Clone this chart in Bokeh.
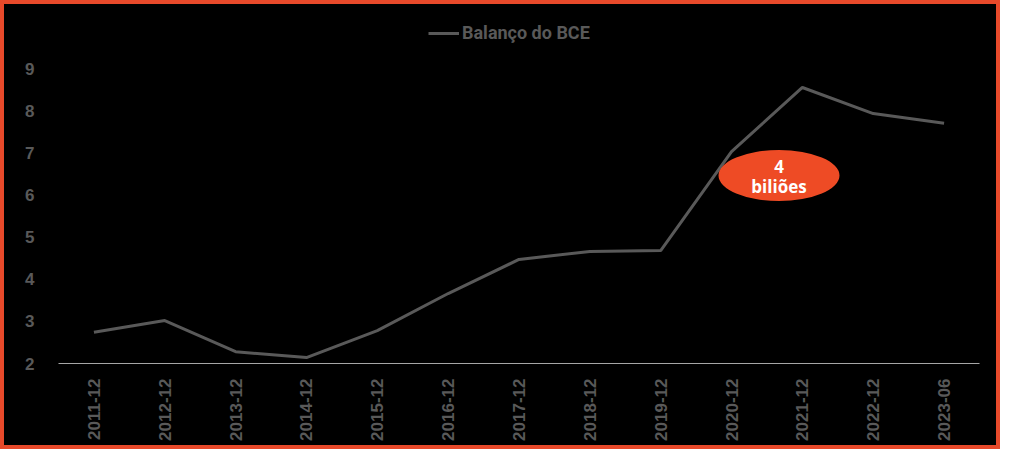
from bokeh.plotting import figure
from bokeh.models import Range1d, FixedTicker, Legend, LegendItem
from bokeh.core.properties import value
from bokeh.embed import file_html
from bokeh.resources import INLINE

categories = ["2011-12", "2012-12", "2013-12", "2014-12", "2015-12", "2016-12",
              "2017-12", "2018-12", "2019-12", "2020-12", "2021-12", "2022-12", "2023-06"]
balanco = [2.74, 3.02, 2.28, 2.14, 2.78, 3.66, 4.47, 4.66, 4.68, 7.03, 8.55, 7.93, 7.70]
y_ticks = [2, 3, 4, 5, 6, 7, 8, 9]
series_name = "Balanço do BCE"
note_lines = ["4", "biliões"]

xs = list(range(len(categories)))

p = figure(width=1000, height=449, output_backend="svg", toolbar_location=None,
           x_range=Range1d(-0.5, len(categories) - 0.5), y_range=Range1d(2, 10.258),
           background_fill_color="black", border_fill_color="black",
           min_border_left=54, min_border_right=25, min_border_top=11, min_border_bottom=90,
           outline_line_color=None)
p.grid.visible = False
p.styles = {"border": "4px solid #E8492A", "background-color": "black"}

r = p.line(xs, balanco, line_color="#595959", line_width=3)

# annotation bubble
p.ellipse(x=[9.67], y=[6.46], width=[121], height=[51], width_units="screen", height_units="screen",
          fill_color="#EE4B25", line_color=None)
p.text(x=[9.67], y=[6.46], text=[note_lines[0]], y_offset=-9, text_align="center", text_baseline="middle",
       text_color="white", text_font=value("Open Sans"), text_font_style="bold", text_font_size="17px")
p.text(x=[9.67], y=[6.46], text=[note_lines[1]], y_offset=11, text_align="center", text_baseline="middle",
       text_color="white", text_font=value("Open Sans"), text_font_style="bold", text_font_size="17px")

# axes
p.xaxis.ticker = FixedTicker(ticks=xs)
p.xaxis.major_label_overrides = {i: c for i, c in enumerate(categories)}
p.xaxis.major_label_orientation = 1.5708
p.xaxis.major_tick_line_color = None
p.xaxis.minor_tick_line_color = None
p.xaxis.axis_line_color = "#a6a6a6"
p.xaxis.axis_line_width = 1
p.xaxis.major_label_text_color = "#595959"
p.xaxis.major_label_text_font = "Liberation Sans"
p.xaxis.major_label_text_font_style = "bold"
p.xaxis.major_label_text_font_size = "17px"
p.xaxis.major_label_standoff = 9

p.yaxis.ticker = FixedTicker(ticks=y_ticks)
p.yaxis.axis_line_color = None
p.yaxis.major_tick_line_color = None
p.yaxis.minor_tick_line_color = None
p.yaxis.major_label_text_color = "#595959"
p.yaxis.major_label_text_font = "Liberation Sans"
p.yaxis.major_label_text_font_style = "bold"
p.yaxis.major_label_text_font_size = "17px"
p.yaxis.major_label_standoff = 18

legend = Legend(items=[LegendItem(label=series_name, renderers=[r])], location=(370, 320),
                background_fill_alpha=0, border_line_color=None, padding=0, margin=0,
                glyph_width=31, label_standoff=3, label_text_color="#595959",
                label_text_font="Roboto", label_text_font_style="bold", label_text_font_size="18px")
p.add_layout(legend, "center")

open("out.html", "w").write(file_html(p, INLINE))
